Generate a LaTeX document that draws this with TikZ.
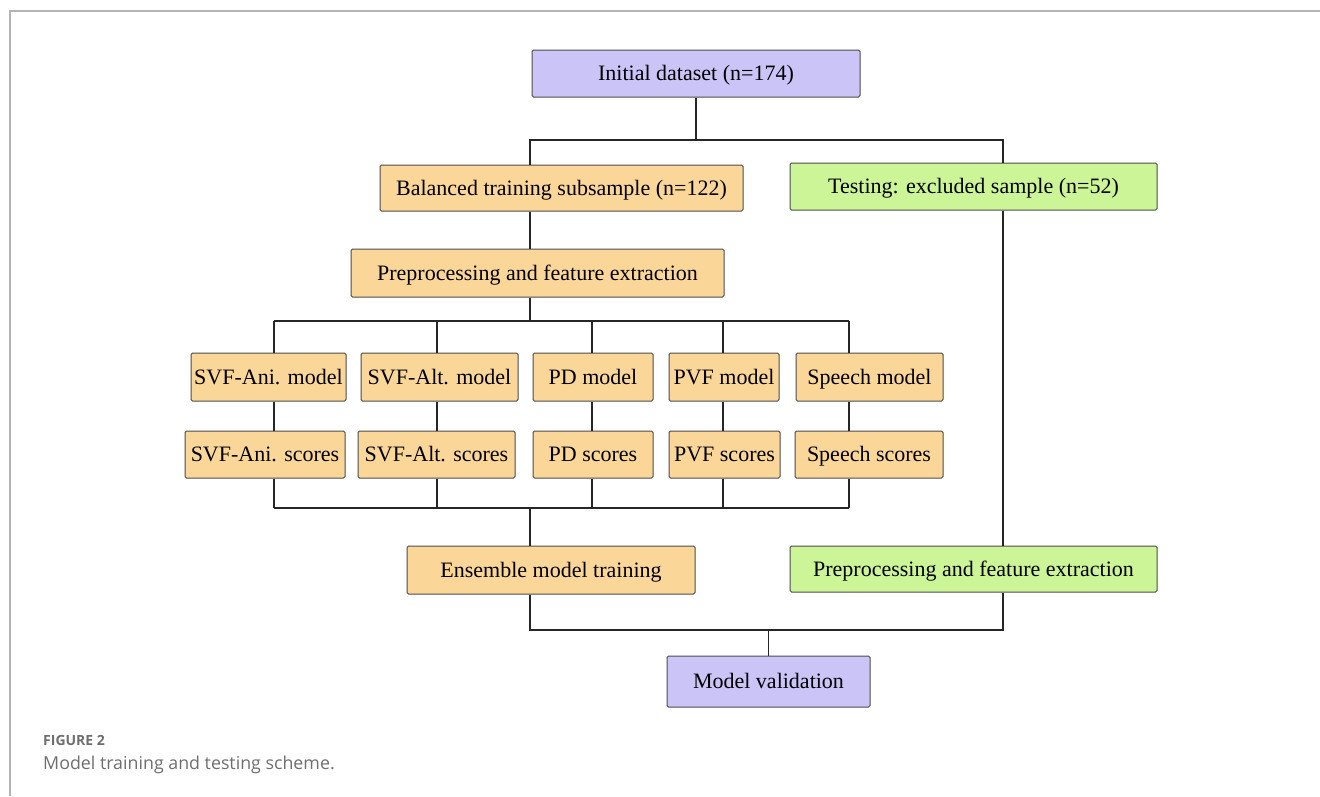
\documentclass[tikz,border=0pt]{standalone}
\usepackage{fontspec}
\setmainfont{Liberation Serif}
\newfontfamily\capfont{Open Sans}
\definecolor{boxorange}{HTML}{FBD699}
\definecolor{boxgreen}{HTML}{CCF598}
\definecolor{boxlav}{HTML}{CBC4F7}
\definecolor{framegrey}{HTML}{B4B4B4}
\definecolor{capgrey}{HTML}{6E6E6E}
\begin{document}
\begin{tikzpicture}[x=1pt,y=-1pt,
  box/.style={draw=black!70,line width=1pt,rounded corners=1.5pt,inner sep=0pt,
    text height=14.5pt,text depth=0pt,
    align=center,font=\fontsize{22}{26}\selectfont},
  ob/.style={box,fill=boxorange},
  gb/.style={box,fill=boxgreen},
  lb/.style={box,fill=boxlav},
  conn/.style={draw=black!85,line width=1.5pt}]
\useasboundingbox (0,0) rectangle (1320,796);
% frame
\draw[framegrey,line width=2pt] (10,796) -- (10,11) -- (1320,11);

% nodes
\node[lb,minimum width=328pt,minimum height=47pt] (init) at (696,73.5) {Initial dataset (n=174)};
\node[ob,minimum width=363pt,minimum height=46pt] (bal) at (561.5,188) {Balanced training subsample (n=122)};
\node[gb,minimum width=367pt,minimum height=47pt] (test) at (973.5,186.5) {Testing: excluded sample (n=52)};
\node[ob,minimum width=373pt,minimum height=48pt] (prep) at (537.5,273) {Preprocessing and feature extraction};

\node[ob,minimum width=155pt,minimum height=48pt] (m1) at (268.5,377) {SVF-Ani. model};
\node[ob,minimum width=157pt,minimum height=48pt] (m2) at (439.5,377) {SVF-Alt. model};
\node[ob,minimum width=120pt,minimum height=48pt] (m3) at (593,377) {PD model};
\node[ob,minimum width=110pt,minimum height=48pt] (m4) at (724,377) {PVF model};
\node[ob,minimum width=147pt,minimum height=48pt] (m5) at (869.5,377) {Speech model};

\node[ob,minimum width=160pt,minimum height=47pt] (s1) at (265,454.5) {SVF-Ani. scores};
\node[ob,minimum width=157pt,minimum height=47pt] (s2) at (436.5,454.5) {SVF-Alt. scores};
\node[ob,minimum width=120pt,minimum height=47pt] (s3) at (593,454.5) {PD scores};
\node[ob,minimum width=111pt,minimum height=47pt] (s4) at (724.5,454.5) {PVF scores};
\node[ob,minimum width=148pt,minimum height=47pt] (s5) at (869,454.5) {Speech scores};

\node[ob,minimum width=288pt,minimum height=48pt] (ens) at (551,570) {Ensemble model training};
\node[gb,minimum width=367pt,minimum height=46pt] (gprep) at (973.5,569) {Preprocessing and feature extraction};
\node[lb,minimum width=203pt,minimum height=51pt] (val) at (768.5,681.5) {Model validation};

% columns and junction rows
\coordinate (xa) at (530,0);
\coordinate (xb) at (1003,0);
\coordinate (c1) at (274,0);
\coordinate (c2) at (437,0);
\coordinate (c3) at (592,0);
\coordinate (c4) at (723,0);
\coordinate (c5) at (849,0);
\coordinate (r1) at (0,140);
\coordinate (r2) at (0,321);
\coordinate (r3) at (0,508);
\coordinate (r4) at (0,630);

% connectors
\draw[conn] (init.south) -- (init.south |- r1);
\draw[conn] (bal.north -| xa) -- (xa |- r1) -- (xb |- r1) -- (test.north -| xb);
\draw[conn] (bal.south -| xa) -- (prep.north -| xa);
\draw[conn] (prep.south -| xa) -- (xa |- r2);
\draw[conn] (c1 |- r2) -- (c5 |- r2);
\foreach \i in {1,...,5}{
  \draw[conn] (m\i.north -| c\i) -- (c\i |- r2);
  \draw[conn] (m\i.south -| c\i) -- (s\i.north -| c\i);
  \draw[conn] (s\i.south -| c\i) -- (c\i |- r3);
}
\draw[conn] (c1 |- r3) -- (c5 |- r3);
\draw[conn] (xa |- r3) -- (ens.north -| xa);
\draw[conn] (test.south -| xb) -- (gprep.north -| xb);
\draw[conn] (ens.south -| xa) -- (xa |- r4) -- (xb |- r4) -- (gprep.south -| xb);
\draw[conn] (val.north) -- (val.north |- r4);

% caption
\node[anchor=base west,inner sep=0pt,text=capgrey,font=\capfont\fontsize{14}{17}\selectfont\bfseries] (fig) at (43,745) {FIGURE 2};
\node[anchor=base west,inner sep=0pt,text=capgrey,font=\capfont\fontsize{17.8}{21}\selectfont] (cap) at (43,769) {Model training and testing scheme.};
\end{tikzpicture}
\end{document}
